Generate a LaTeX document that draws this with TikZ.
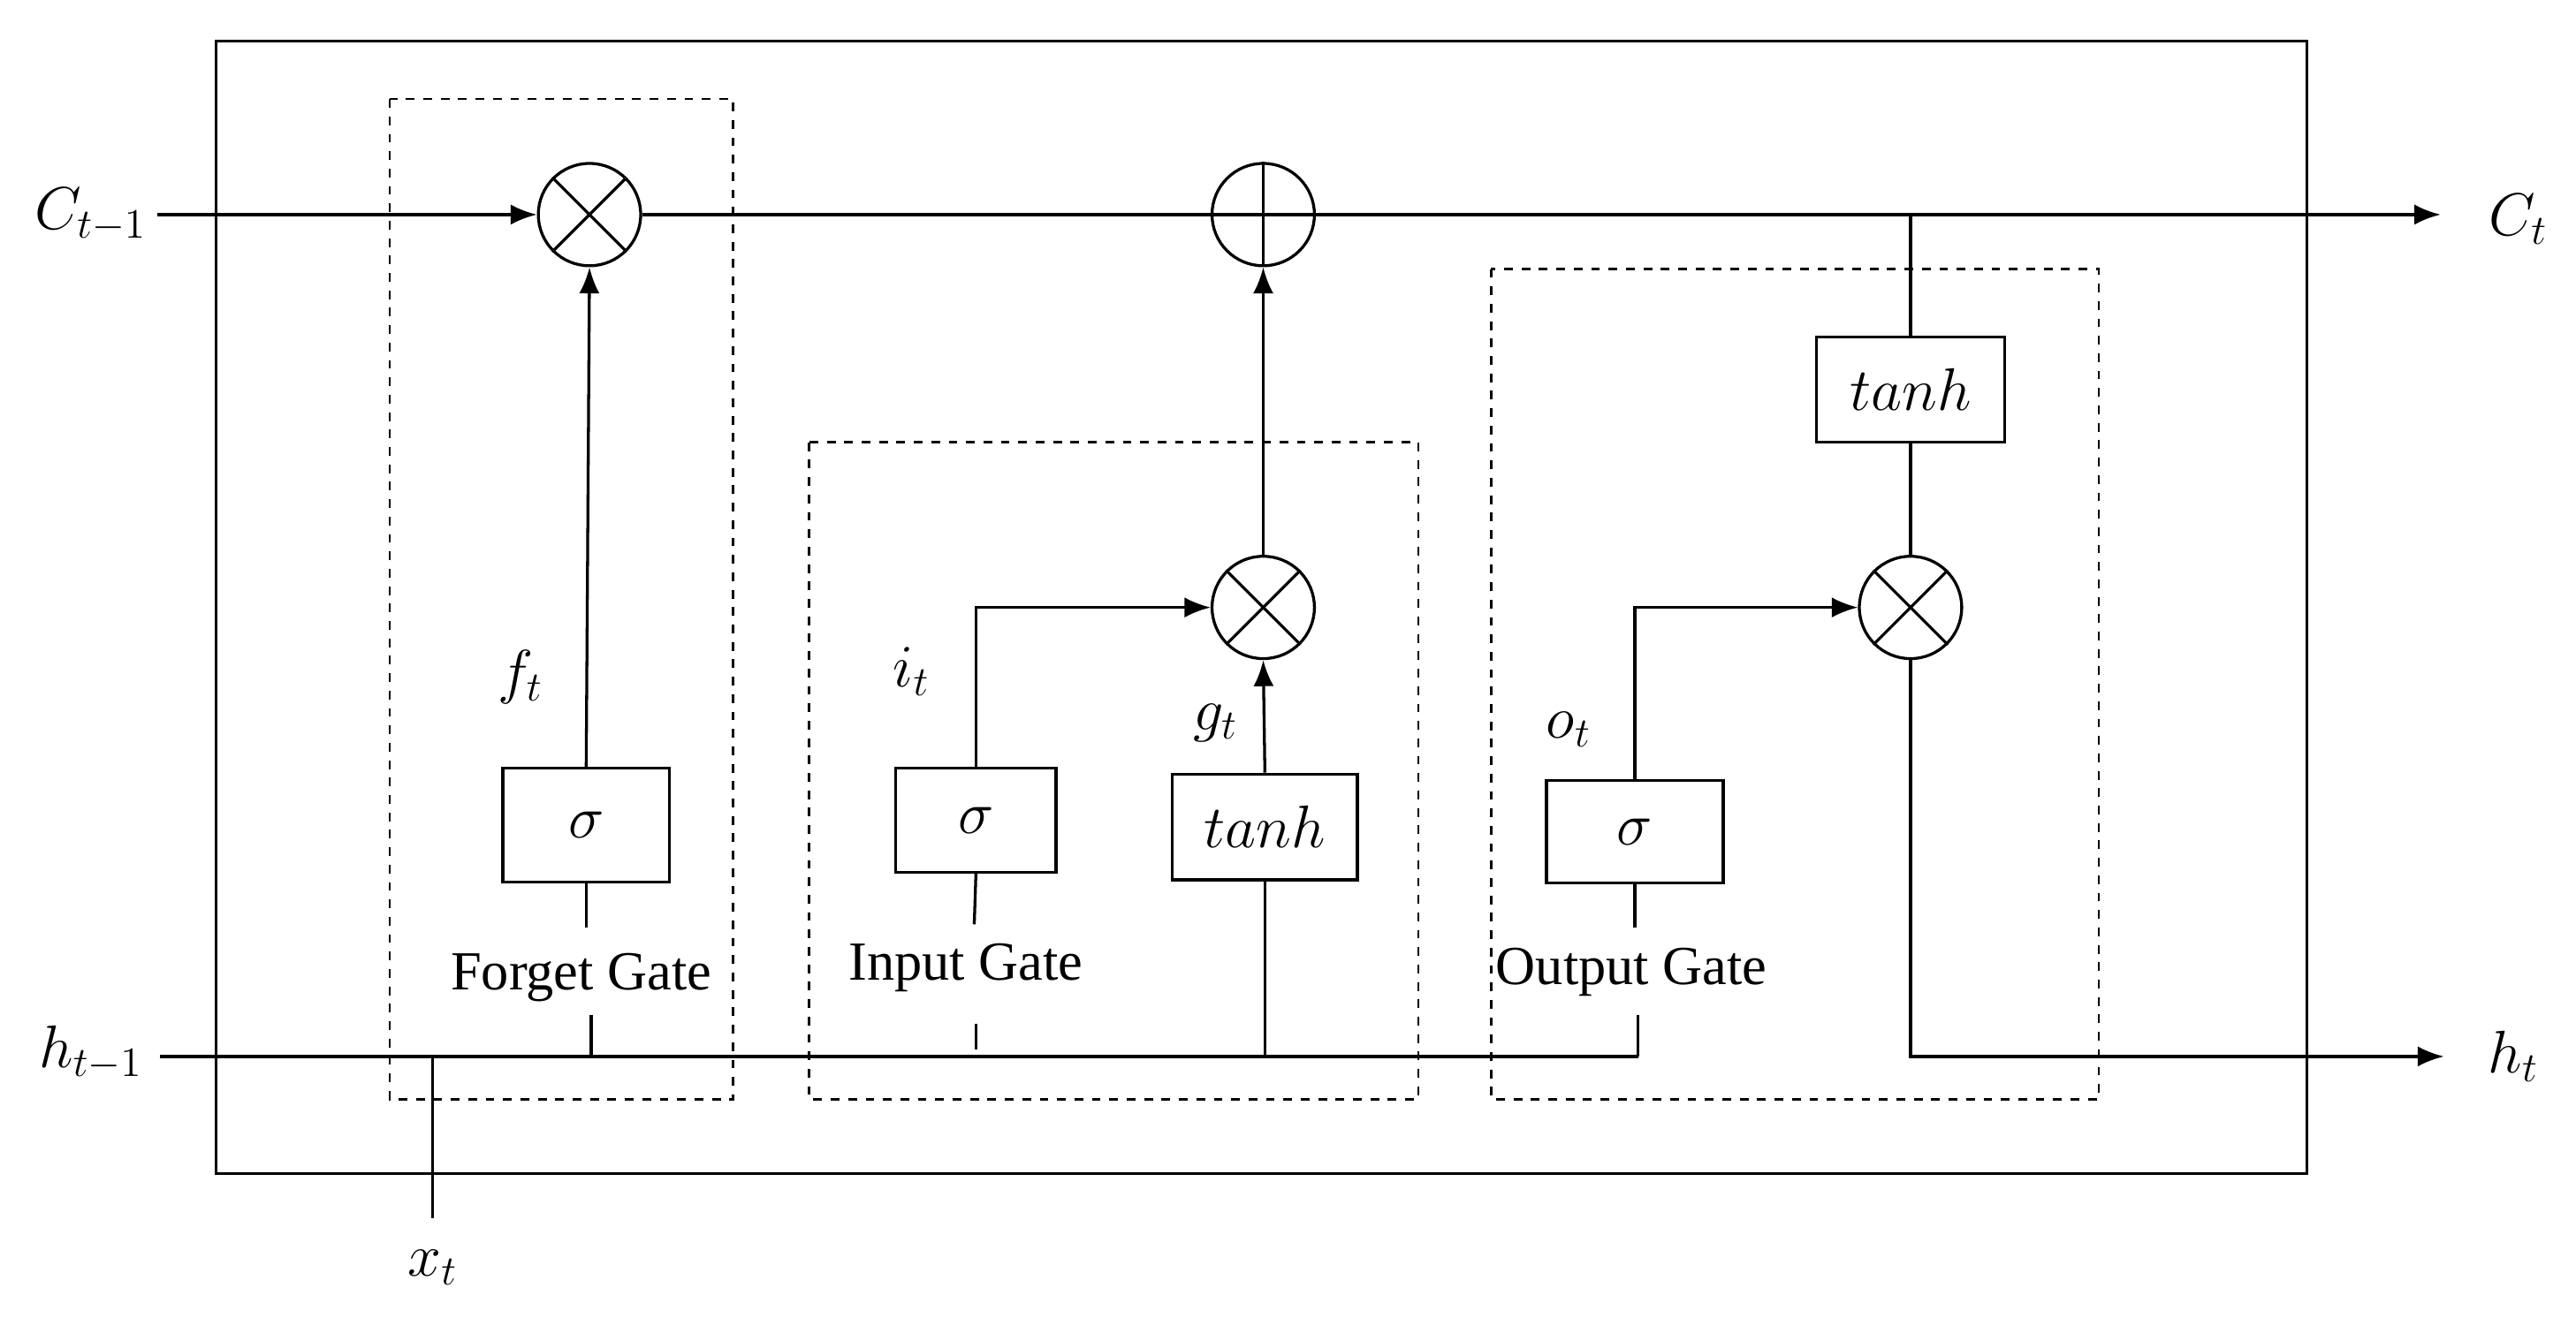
\documentclass[tikz,border=0pt]{standalone}
\usepackage{fontspec}
\setmainfont{Liberation Serif}
\usetikzlibrary{arrows.meta}
\begin{document}
\begin{tikzpicture}[x=0.02cm,y=-0.02cm,line width=1pt,
  >={Latex[length=9pt,width=7pt]},
  op/.style={circle,draw,minimum size=62*0.02cm,inner sep=0pt},
  box/.style={draw,inner sep=0pt,font=\fontsize{22}{26}\selectfont},
  lab/.style={font=\fontsize{22}{26}\selectfont},
  gl/.style={font=\fontsize{19}{23}\selectfont},
  dsh/.style={draw,dashed,line width=0.8pt}]
\useasboundingbox (0,0) rectangle (1560,798);
\draw (131,25) rectangle (1397,711);
\draw[dsh] (236,60) rectangle (444,666);
\draw[dsh] (490,268) rectangle (859,666);
\draw[dsh] (903,163) rectangle (1271,666);
% operators
\node[op] (fm) at (357,130) {};
\node[op] (pl) at (765,130) {};
\node[op] (im) at (765,368) {};
\node[op] (om) at (1157,368) {};
\foreach \m in {fm,im,om}{\draw (\m.north east)--(\m.south west) (\m.north west)--(\m.south east);}
\draw (pl.north)--(pl.south) (pl.east)--(pl.west);
% boxes
\node[box,minimum width=101*0.02cm,minimum height=69*0.02cm] (fs) at (355,500) {$\sigma$};
\node[box,minimum width=97*0.02cm,minimum height=63*0.02cm] (is) at (591,497) {$\sigma$};
\node[box,minimum width=112*0.02cm,minimum height=64*0.02cm] (gt) at (766,501) {$tanh$};
\node[box,minimum width=107*0.02cm,minimum height=62*0.02cm] (os) at (990,504) {$\sigma$};
\node[box,minimum width=114*0.02cm,minimum height=64*0.02cm] (ct) at (1157,236) {$tanh$};
% labels
\node[lab] (cin) at (55,130) {$C_{t-1}$};
\node[lab] (cout) at (1525,133) {$C_t$};
\node[lab] (hin) at (55,638) {$h_{t-1}$};
\node[lab] (hout) at (1522,640) {$h_t$};
\node[lab] (xt) at (262,768) {$x_t$};
\node[lab] at (315,410) {$f_t$};
\node[lab] at (552,407) {$i_t$};
\node[lab] at (736,438) {$g_t$};
\node[lab] at (950,442) {$o_t$};
\node[gl] (fg) at (352,592) {Forget Gate};
\node[gl] (ig) at (585,586) {Input Gate};
\node[gl] (og) at (988,589) {Output Gate};
\coordinate (cend) at (1478,130);
\coordinate (hend) at (1480,640);
% cell line
\draw[->] (cin.east) -- (fm.west);
\draw (fm.east) -- (pl.west);
\draw[->] (pl.east) -- (cend);
% hidden line
\coordinate (hs) at (97,640);
\coordinate (hx) at (992,640);
\draw (hs) -- (hx);
\draw (262,640) -- (262,738);
% forget gate
\draw[->] (fs.north) -- (fm.south);
\draw (fs.south) -- (355,562);
\draw (358,615) -- (358,640);
% input gate
\draw[->] (is.north) -- (591,368) -- (im.west);
\draw (is.south) -- (590,560);
\draw (591,620) -- (591,636);
\draw (766,640) -- (gt.south);
\draw[->] (gt.north) -- (im.south);
\draw[->] (im.north) -- (pl.south);
% output gate
\draw[->] (os.north) -- (990,368) -- (om.west);
\draw (os.south) -- (990,562);
\draw (992,615) -- (hx);
\draw (1157,130) -- (ct.north);
\draw (ct.south) -- (om.north);
\draw[->] (om.south) -- (1157,640) -- (hend);
\end{tikzpicture}
\end{document}
